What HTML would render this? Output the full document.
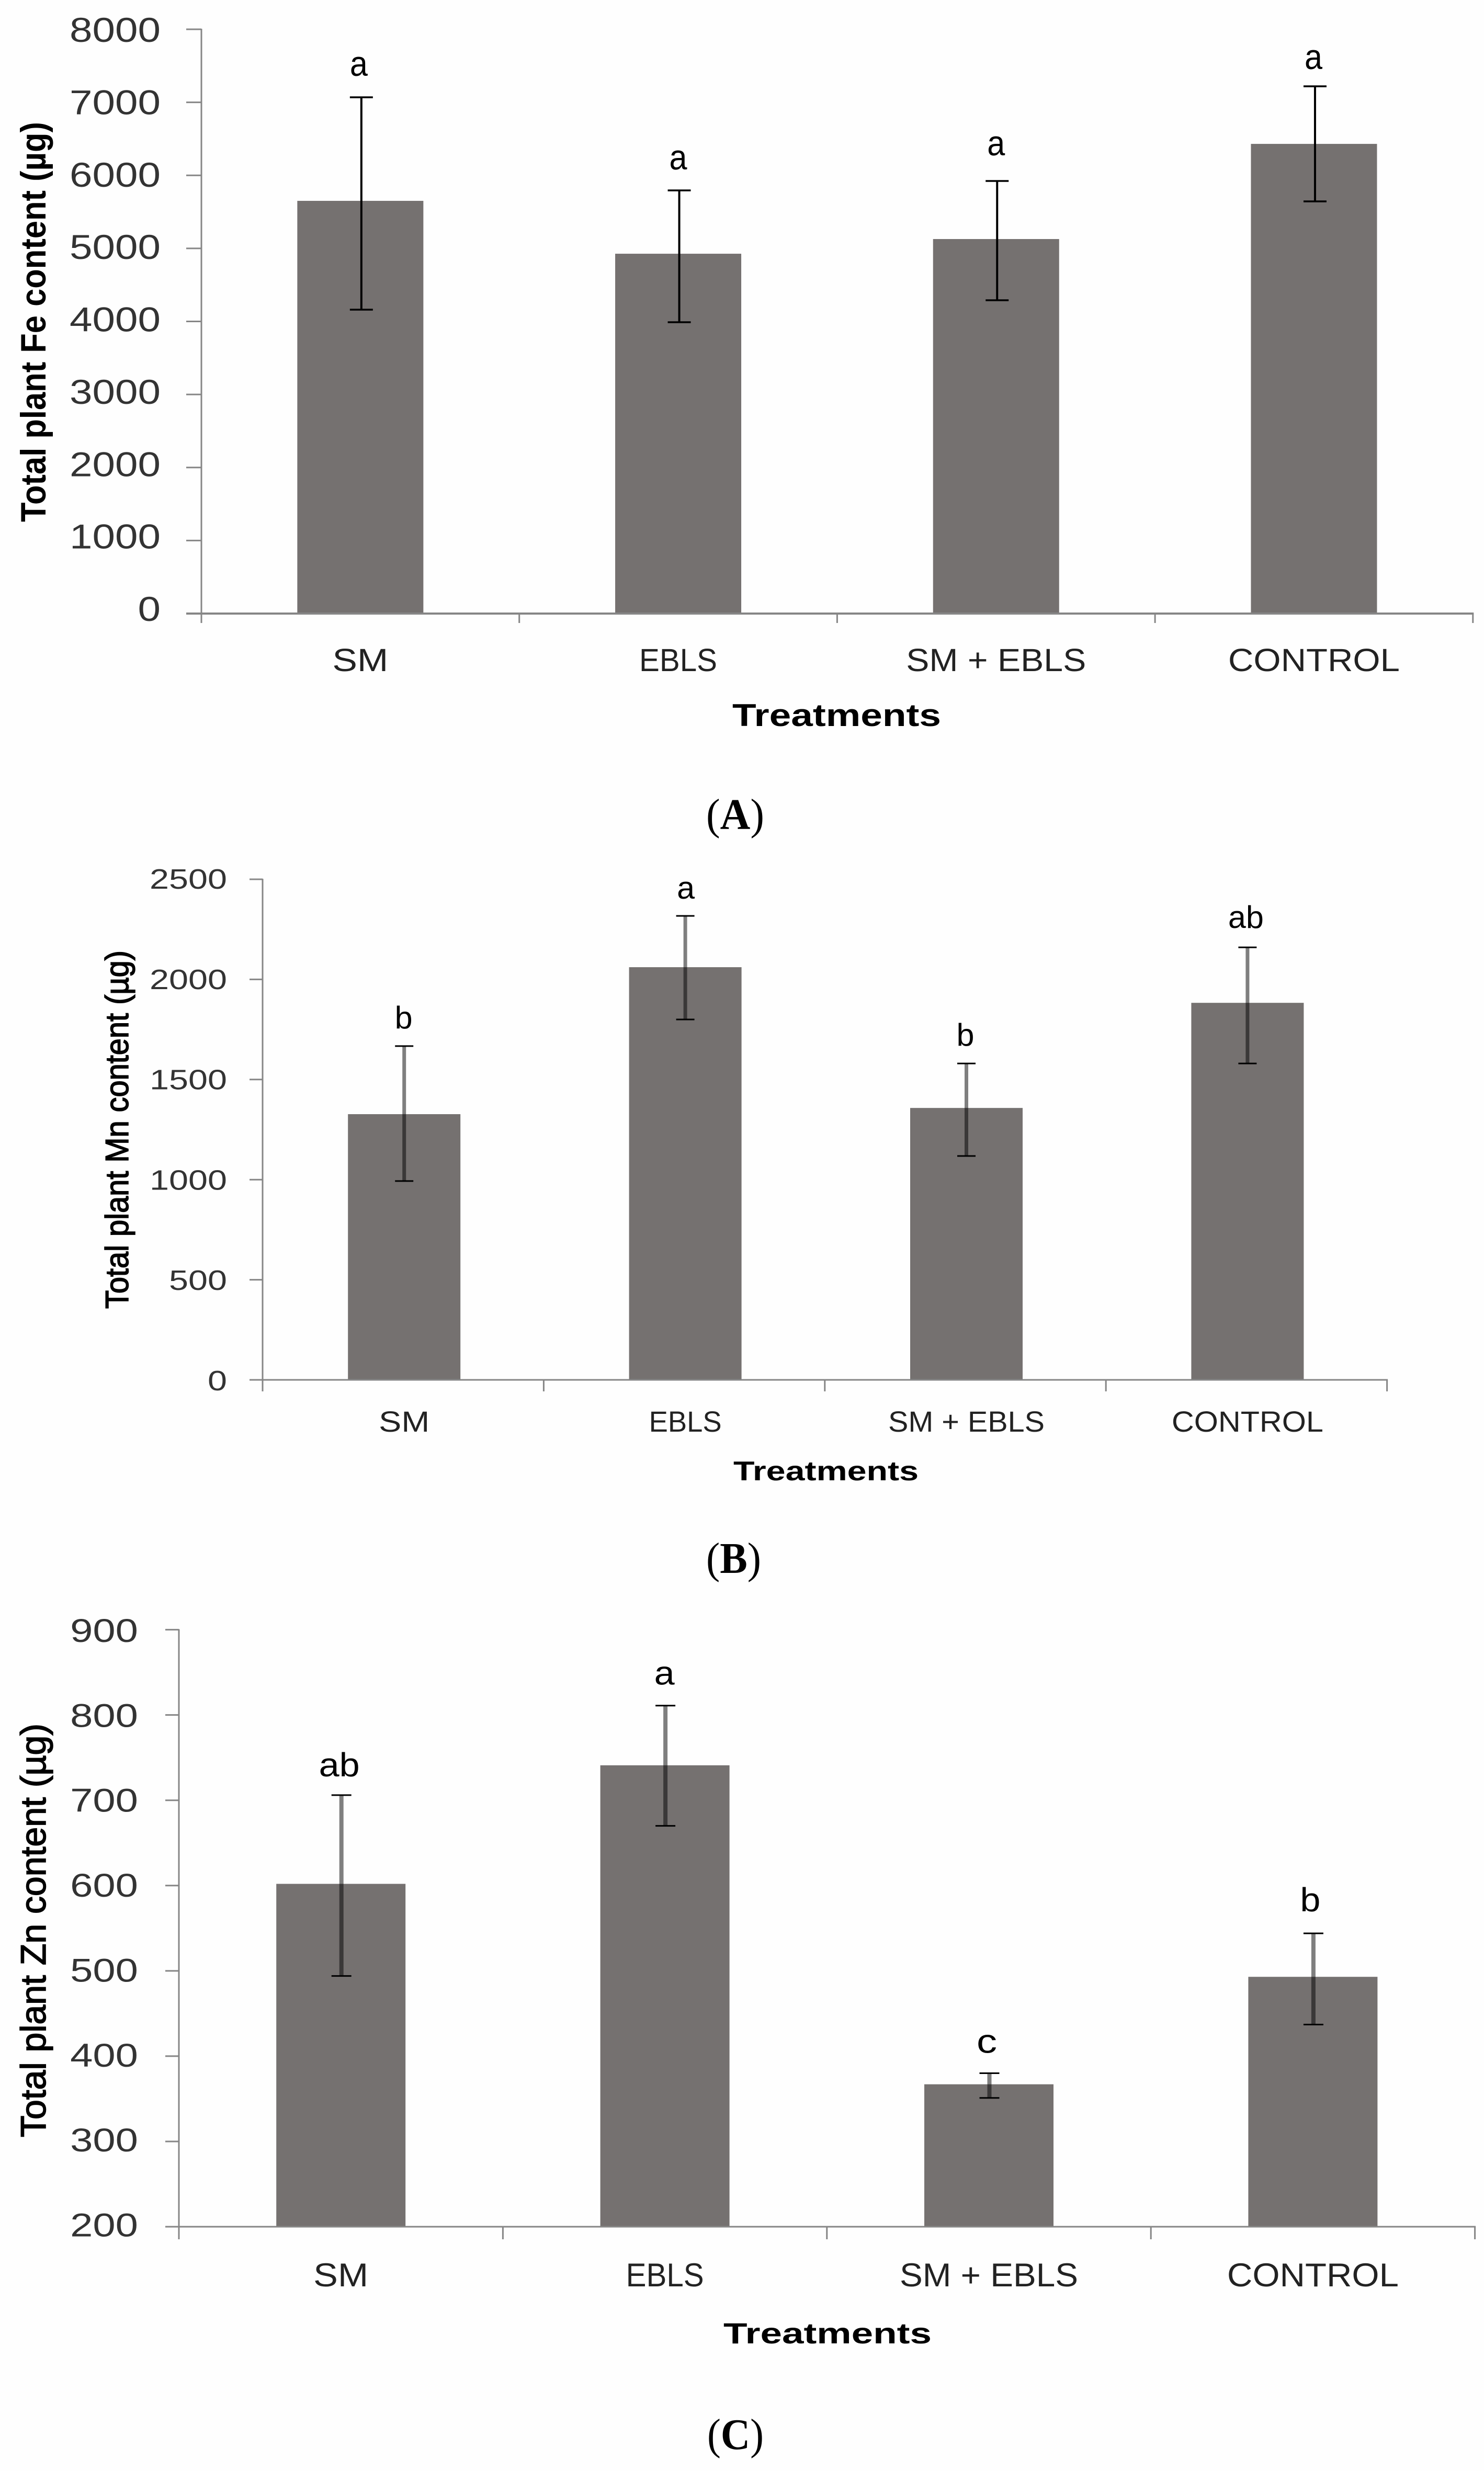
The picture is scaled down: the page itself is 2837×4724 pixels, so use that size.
<!DOCTYPE html>
<html lang="en">
<head>
<meta charset="utf-8">
<title>Total plant Fe, Mn and Zn content by treatment</title>
<style>
  html, body { margin: 0; padding: 0; background: #fefefe; }
  svg { display: block; }
  text { font-family: "Liberation Sans", sans-serif; fill: #000; }
  .tick-label { fill: #333; }
  .category-label { fill: #222; }
  .semi-bold { stroke: #000; stroke-width: 1.6px; }
  .caption { font-family: "Liberation Serif", serif; }
</style>
</head>
<body>
<svg id="figure" xmlns="http://www.w3.org/2000/svg" width="2837" height="4724" viewBox="0 0 2837 4724">
  <rect x="0" y="0" width="2837" height="4724" fill="#fefefe"/>

  <g id="chart-a">
    <text transform="translate(87 998) rotate(-90)" font-size="68" font-weight="bold" textLength="765" lengthAdjust="spacingAndGlyphs">Total plant Fe content (µg)</text>
    <text x="1400" y="1388" font-size="60" font-weight="bold" textLength="399" lengthAdjust="spacingAndGlyphs">Treatments</text>
    <text class="caption" x="1350" y="1585" font-size="84" textLength="111" lengthAdjust="spacingAndGlyphs">(<tspan font-weight="bold">A</tspan>)</text>
  </g>

  <g id="chart-b">
    <text class="semi-bold" transform="translate(245 2502) rotate(-90)" font-size="62" textLength="685" lengthAdjust="spacingAndGlyphs">Total plant Mn content (µg)</text>
    <text x="1402" y="2830" font-size="52" font-weight="bold" textLength="354" lengthAdjust="spacingAndGlyphs">Treatments</text>
    <text class="caption" x="1350" y="3007" font-size="84" textLength="105" lengthAdjust="spacingAndGlyphs">(<tspan font-weight="bold">B</tspan>)</text>
  </g>

  <g id="chart-c">
    <text class="semi-bold" transform="translate(87 4086) rotate(-90)" font-size="68" textLength="791" lengthAdjust="spacingAndGlyphs">Total plant Zn content (µg)</text>
    <text x="1383" y="4480" font-size="56" font-weight="bold" textLength="398" lengthAdjust="spacingAndGlyphs">Treatments</text>
    <text class="caption" x="1352" y="4682" font-size="84" textLength="108" lengthAdjust="spacingAndGlyphs">(<tspan font-weight="bold">C</tspan>)</text>
  </g>
</svg>

<script>
// Shared categories
var categories = ["SM", "EBLS", "SM + EBLS", "CONTROL"];

// Panel A: total plant Fe content
var feMeans = [5651, 4927, 5128, 6431];
var feUpper = [7069, 5794, 5923, 7219];
var feLower = [4161, 3989, 4290, 5644];
var feLetters = ["a", "a", "a", "a"];
var feTicks = [0, 1000, 2000, 3000, 4000, 5000, 6000, 7000, 8000];

// Panel B: total plant Mn content
var mnMeans = [1327, 2061, 1358, 1883];
var mnUpper = [1667, 2317, 1580, 2160];
var mnLower = [993, 1800, 1118, 1580];
var mnLetters = ["b", "a", "b", "ab"];
var mnTicks = [0, 500, 1000, 1500, 2000, 2500];

// Panel C: total plant Zn content
var znMeans = [602, 741, 367, 493];
var znUpper = [706, 811, 380, 544];
var znLower = [494, 670, 351, 437];
var znLetters = ["ab", "a", "c", "b"];
var znTicks = [200, 300, 400, 500, 600, 700, 800, 900];

var SVG_NS = "http://www.w3.org/2000/svg";

function shape(tag, attrs, parent) {
  var el = document.createElementNS(SVG_NS, tag);
  for (var key in attrs) { el.setAttribute(key, attrs[key]); }
  parent.appendChild(el);
  return el;
}

function drawChart(groupId, prefix, means, upper, lower, letters, ticks, cfg) {
  var g = document.getElementById(groupId);
  var minV = ticks[0];
  var maxV = ticks[ticks.length - 1];
  var yScale = function (v) {
    return cfg.yBottom - (v - minV) / (maxV - minV) * (cfg.yBottom - cfg.yTop);
  };
  var xCenter = function (i) {
    return cfg.xLeft + (i + 0.5) * cfg.step;
  };
  var xRight = cfg.xLeft + categories.length * cfg.step;

  // Bars
  means.forEach(function (v, i) {
    var top = yScale(v);
    var bar = shape("rect", {
      x: xCenter(i) + cfg.barDx - cfg.barWidth / 2,
      y: top,
      width: cfg.barWidth,
      height: cfg.yBottom - top,
      fill: "#757170"
    }, g);
    
    
  });

  // Y axis line, ticks and labels
  var yAxis = shape("line", {
    x1: cfg.xLeft, x2: cfg.xLeft, y1: cfg.yTop - 1, y2: cfg.yBottom + cfg.xTickLen,
    stroke: "#868686", "stroke-width": 3
  }, g);
  
  

  ticks.forEach(function (t, i) {
    var y = yScale(t);
    var tick = shape("line", {
      x1: cfg.xLeft - cfg.yTickLen, x2: cfg.xLeft, y1: y, y2: y,
      stroke: "#868686", "stroke-width": 3
    }, g);
    
    

    var label = String(t);
    var width = label.length * cfg.digitWidth;
    var frac = i / (ticks.length - 1);
    var baseline = cfg.labelBaseBottom + (cfg.labelBaseTop - cfg.labelBaseBottom) * frac;
    var tl = shape("text", {
      "class": "tick-label",
      x: cfg.labelRight - width,
      y: baseline,
      "font-size": cfg.tickFont,
      textLength: width,
      lengthAdjust: "spacingAndGlyphs"
    }, g);
    tl.textContent = label;
    
    
  });

  // X axis line, ticks and labels
  var xAxis = shape("line", {
    x1: cfg.xLeft - cfg.yTickLen, x2: xRight + 1.5, y1: cfg.yBottom, y2: cfg.yBottom,
    stroke: "#868686", "stroke-width": cfg.xAxisWidth
  }, g);
  
  

  for (var k = 1; k <= categories.length; k++) {
    var xt = cfg.xLeft + k * cfg.step;
    var xTick = shape("line", {
      x1: xt, x2: xt, y1: cfg.yBottom, y2: cfg.yBottom + cfg.xTickLen,
      stroke: "#868686", "stroke-width": 3
    }, g);
    
    
  }

  categories.forEach(function (c, i) {
    var w = cfg.catWidths[i];
    var cl = shape("text", {
      "class": "category-label",
      x: xCenter(i) + cfg.barDx - w / 2,
      y: cfg.catBaseline,
      "font-size": cfg.catFont,
      textLength: w,
      lengthAdjust: "spacingAndGlyphs"
    }, g);
    cl.textContent = c;
    
    
  });

  // Error bars and significance letters
  means.forEach(function (v, i) {
    var x = xCenter(i) + cfg.errDx;
    var yUp = yScale(upper[i]);
    var yLo = yScale(lower[i]);
    var stem = shape("line", {
      x1: x, x2: x, y1: yUp, y2: yLo,
      stroke: "#000", "stroke-width": cfg.stemWidth, "stroke-opacity": cfg.stemOpacity
    }, g);
    
    

    [yUp, yLo].forEach(function (yc, j) {
      var cap = shape("line", {
        x1: x - cfg.capHalf, x2: x + cfg.capHalf, y1: yc, y2: yc,
        stroke: "#000", "stroke-width": cfg.capWidth
      }, g);
      
      
    });

    var letter = letters[i];
    var letterW = letter.length * cfg.letterWidth;
    var lt = shape("text", {
      x: xCenter(i) + cfg.letterDx[i] - letterW / 2,
      y: yUp - cfg.letterGap[i],
      "font-size": cfg.letterFont,
      textLength: letterW,
      lengthAdjust: "spacingAndGlyphs"
    }, g);
    lt.textContent = letter;
    
    
  });
}

drawChart("chart-a", "fe", feMeans, feUpper, feLower, feLetters, feTicks, {
  xLeft: 385, step: 607.7, yTop: 56, yBottom: 1173, barWidth: 241, barDx: 0,
  yTickLen: 29, xTickLen: 18, xAxisWidth: 4,
  digitWidth: 43.5, labelRight: 307, labelBaseTop: 80, labelBaseBottom: 1187, tickFont: 66,
  catWidths: [107, 149, 344, 328], catBaseline: 1283, catFont: 61,
  errDx: 2, stemWidth: 4, stemOpacity: 1, capHalf: 22, capWidth: 3.5,
  letterWidth: 34, letterFont: 68, letterDx: [-3, 0, 0, -1], letterGap: [41, 40, 49, 33]
});

drawChart("chart-b", "mn", mnMeans, mnUpper, mnLower, mnLetters, mnTicks, {
  xLeft: 502, step: 537.4, yTop: 1681, yBottom: 2638, barWidth: 215, barDx: 2,
  yTickLen: 25, xTickLen: 22, xAxisWidth: 3,
  digitWidth: 37, labelRight: 434, labelBaseTop: 1699, labelBaseBottom: 2658, tickFont: 54,
  catWidths: [97, 139, 299, 290], catBaseline: 2737, catFont: 56,
  errDx: 2, stemWidth: 7, stemOpacity: 0.5, capHalf: 17.5, capWidth: 3,
  letterWidth: 34, letterFont: 60, letterDx: [1, 3, 0, -1], letterGap: [34, 33, 34, 37]
});

drawChart("chart-c", "zn", znMeans, znUpper, znLower, znLetters, znTicks, {
  xLeft: 342, step: 619.4, yTop: 3115.6, yBottom: 4257, barWidth: 247, barDx: 0,
  yTickLen: 26, xTickLen: 24, xAxisWidth: 3,
  digitWidth: 43.3, labelRight: 264, labelBaseTop: 3139, labelBaseBottom: 4275.6, tickFont: 63,
  catWidths: [105, 149, 341, 328], catBaseline: 4371, catFont: 63,
  errDx: 1, stemWidth: 8, stemOpacity: 0.5, capHalf: 19, capWidth: 3,
  letterWidth: 39, letterFont: 64, letterDx: [-3, -1, -4, -5], letterGap: [36, 40, 39, 42]
});
</script>
</body>
</html>
